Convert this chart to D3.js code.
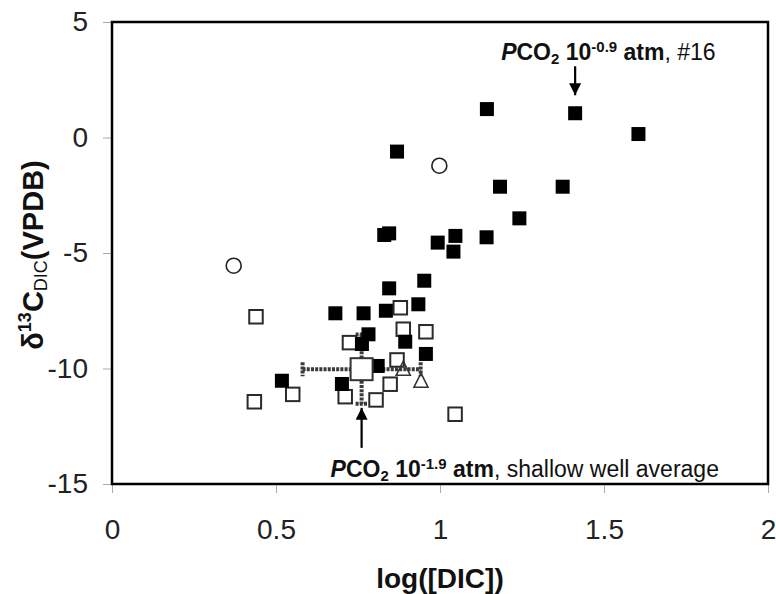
<!DOCTYPE html>
<html>
<head>
<meta charset="utf-8">
<script src="https://cdn.jsdelivr.net/npm/d3@7"></script>
<style>
  html, body { margin: 0; padding: 0; background: #fff; }
  svg { display: block; }
</style>
</head>
<body>
<svg id="chart"></svg>
<script>
// Filled squares
const filledX = [1.143, 1.412, 1.605, 0.869, 1.183, 1.374, 1.242, 0.845, 0.830, 0.993, 1.047, 1.041, 1.142,
                 0.952, 0.845, 0.934, 0.681, 0.767, 0.835, 0.782, 0.762, 0.894, 0.957, 0.810, 0.518, 0.701];
const filledY = [1.23, 1.05, 0.15, -0.61, -2.13, -2.13, -3.50, -4.15, -4.22, -4.55, -4.26, -4.94, -4.32,
                 -6.20, -6.53, -7.22, -7.61, -7.61, -7.50, -8.52, -8.94, -8.84, -9.37, -9.89, -10.53, -10.67];
// Open squares
const openX = [0.439, 0.434, 0.551, 0.724, 0.879, 0.888, 0.957, 0.869, 0.848, 0.711, 0.805, 1.046];
const openY = [-7.76, -11.44, -11.12, -8.88, -7.37, -8.30, -8.41, -9.63, -10.68, -11.22, -11.36, -11.98];
// Open circles
const circleX = [0.371, 0.998];
const circleY = [-5.55, -1.22];
// Open triangles
const triX = [0.888, 0.942];
const triY = [-10.03, -10.55];
// Shallow well average with error bars
const avgX = [0.761], avgY = [-10.03], avgXErr = [0.18], avgYErr = [1.5];

const xTicks = [0, 0.5, 1, 1.5, 2];
const yTicks = [5, 0, -5, -10, -15];

const W = 776, H = 594;
const m = { top: 22, right: 8, bottom: 110, left: 112 };
const iW = W - m.left - m.right;
const iH = H - m.top - m.bottom;
const FONT = "'Liberation Sans', Arial, sans-serif";

const x = d3.scaleLinear().domain([0, 2]).range([0, iW]);
const y = d3.scaleLinear().domain([-15, 5]).range([iH, 0]);

const svg = d3.select("#chart").attr("width", W).attr("height", H);
const g = svg.append("g").attr("transform", `translate(${m.left},${m.top})`);

// Axes (gray outward ticks)
g.append("g")
  .attr("transform", `translate(0,${iH})`)
  .call(d3.axisBottom(x).tickValues(xTicks).tickSize(9).tickPadding(26).tickFormat(d => String(d)))
  .call(ax => {
    ax.select(".domain").remove();
    ax.selectAll(".tick line").attr("stroke", "#aaa");
    ax.selectAll(".tick text").style("font-family", FONT).style("font-size", "28px").style("fill", "#222");
  });
g.append("g")
  .call(d3.axisLeft(y).tickValues(yTicks).tickSize(9).tickPadding(15).tickFormat(d => String(d)))
  .call(ax => {
    ax.select(".domain").remove();
    ax.selectAll(".tick line").attr("stroke", "#aaa");
    ax.selectAll(".tick text").style("font-family", FONT).style("font-size", "28px").style("fill", "#222");
  });

// Frame
g.append("rect")
  .attr("x", 0).attr("y", 0).attr("width", iW).attr("height", iH)
  .attr("fill", "none").attr("stroke", "#000").attr("stroke-width", 2.5);

// Error bars of the shallow well average
const eb = g.append("g").attr("stroke", "#3a3a3a").attr("stroke-width", 4).attr("stroke-dasharray", "3,1.2").attr("fill", "none");
avgX.forEach((ax, i) => {
  const cx = x(ax), cy = y(avgY[i]);
  const xl = x(ax - avgXErr[i]), xr = x(ax + avgXErr[i]);
  const yt = y(avgY[i] + avgYErr[i]), yb = y(avgY[i] - avgYErr[i]);
  eb.append("line").attr("x1", xl).attr("x2", xr).attr("y1", cy).attr("y2", cy);
  eb.append("line").attr("x1", cx).attr("x2", cx).attr("y1", yt).attr("y2", yb);
  eb.append("line").attr("x1", xl).attr("x2", xl).attr("y1", cy - 7).attr("y2", cy + 7);
  eb.append("line").attr("x1", xr).attr("x2", xr).attr("y1", cy - 7).attr("y2", cy + 7);
  eb.append("line").attr("x1", cx - 6).attr("x2", cx + 6).attr("y1", yt).attr("y2", yt);
  eb.append("line").attr("x1", cx - 6).attr("x2", cx + 6).attr("y1", yb).attr("y2", yb);
});

// Open squares
const sOpen = 13.5;
g.append("g").selectAll("rect")
  .data(d3.zip(openX, openY)).join("rect")
  .attr("x", d => x(d[0]) - sOpen / 2).attr("y", d => y(d[1]) - sOpen / 2)
  .attr("width", sOpen).attr("height", sOpen)
  .attr("fill", "#fff").attr("stroke", "#2a2a2a").attr("stroke-width", 2);

// Filled squares
const sFill = 14;
g.append("g").selectAll("rect")
  .data(d3.zip(filledX, filledY)).join("rect")
  .attr("x", d => x(d[0]) - sFill / 2).attr("y", d => y(d[1]) - sFill / 2)
  .attr("width", sFill).attr("height", sFill)
  .attr("fill", "#000");

// Open circles
g.append("g").selectAll("circle")
  .data(d3.zip(circleX, circleY)).join("circle")
  .attr("cx", d => x(d[0])).attr("cy", d => y(d[1])).attr("r", 7.5)
  .attr("fill", "#fff").attr("stroke", "#222").attr("stroke-width", 1.6);

// Open triangles
g.append("g").selectAll("path")
  .data(d3.zip(triX, triY)).join("path")
  .attr("transform", d => `translate(${x(d[0])},${y(d[1])})`)
  .attr("d", "M0,-8L7,6L-7,6Z")
  .attr("fill", "none").attr("stroke", "#333").attr("stroke-width", 1.6);

// Average point (big open square)
const sBig = 22;
g.append("g").selectAll("rect")
  .data(d3.zip(avgX, avgY)).join("rect")
  .attr("x", d => x(d[0]) - sBig / 2).attr("y", d => y(d[1]) - sBig / 2)
  .attr("width", sBig).attr("height", sBig)
  .attr("fill", "#fff").attr("stroke", "#333").attr("stroke-width", 2);

// Arrow heads
const defs = svg.append("defs");
defs.append("marker")
  .attr("id", "arr").attr("viewBox", "0 0 10 10").attr("refX", 10).attr("refY", 5)
  .attr("markerWidth", 13).attr("markerHeight", 12).attr("markerUnits", "userSpaceOnUse")
  .attr("orient", "auto")
  .append("path").attr("d", "M0,0L10,5L0,10Z").attr("fill", "#000");

// Annotation: PCO2 10^-0.9 atm, #16
const ax16 = x(filledX[1]), ay16 = y(filledY[1]);
g.append("line")
  .attr("x1", ax16).attr("x2", ax16).attr("y1", ay16 - 47).attr("y2", ay16 - 18)
  .attr("stroke", "#000").attr("stroke-width", 2.2).attr("marker-end", "url(#arr)");

function pco2Label(sel, exp, rest) {
  sel.style("font-family", FONT).style("font-size", "23px").style("fill", "#111");
  sel.append("tspan").attr("font-weight", "bold").attr("font-style", "italic").text("P");
  sel.append("tspan").attr("font-weight", "bold").text("CO");
  sel.append("tspan").attr("font-weight", "bold").attr("font-size", "15px").attr("dy", 4).text("2");
  sel.append("tspan").attr("font-weight", "bold").attr("dy", -4).text(" 10");
  sel.append("tspan").attr("font-weight", "bold").attr("font-size", "15px").attr("dy", -8).text(exp);
  sel.append("tspan").attr("font-weight", "bold").attr("dy", 8).text(" atm");
  sel.append("tspan").text(rest);
}
g.append("text")
  .attr("x", ax16 - 74).attr("y", ay16 - 53)
  .call(pco2Label, "-0.9", ", #16");

// Annotation: shallow well average
const axAvg = x(avgX[0]), ayAvg = y(avgY[0] - avgYErr[0]);
g.append("line")
  .attr("x1", axAvg).attr("x2", axAvg).attr("y1", ayAvg + 44).attr("y2", ayAvg + 4)
  .attr("stroke", "#000").attr("stroke-width", 2.2).attr("marker-end", "url(#arr)");
g.append("text")
  .attr("x", axAvg - 31).attr("y", ayAvg + 73)
  .call(pco2Label, "-1.9", ", shallow well average");

// Axis titles
svg.append("text")
  .attr("x", m.left + iW / 2).attr("y", 588)
  .attr("text-anchor", "middle")
  .style("font-family", FONT).style("font-size", "28px").style("font-weight", "bold").style("fill", "#111")
  .text("log([DIC])");

const yt = svg.append("text")
  .attr("transform", "translate(43,255) rotate(-90)")
  .attr("text-anchor", "middle")
  .style("font-family", FONT).style("font-size", "29px").style("font-weight", "bold").style("fill", "#111");
yt.append("tspan").text("δ");
yt.append("tspan").attr("font-size", "18px").attr("dy", -12).text("13");
yt.append("tspan").attr("dy", 12).text("C");
yt.append("tspan").attr("font-size", "18px").attr("font-weight", "normal").attr("dy", 4).text("DIC");
yt.append("tspan").attr("dy", -4).text("(VPDB)");
</script>
</body>
</html>
